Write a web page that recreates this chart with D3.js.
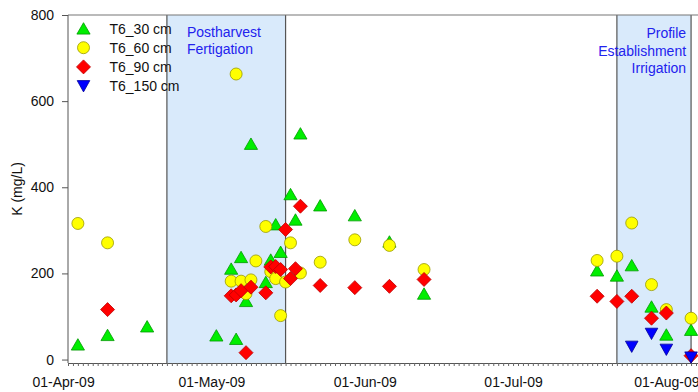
<!DOCTYPE html>
<html><head><meta charset="utf-8">
<script src="https://cdn.jsdelivr.net/npm/d3@7"></script>
<style>
html,body{margin:0;padding:0;background:#fff;overflow:hidden}
svg{display:block;font-family:"Liberation Sans",Arial,sans-serif}
</style></head><body>
<svg id="c" width="698" height="392"></svg>
<script>
// ---- data ----
const seriesNames = ["T6_30 cm", "T6_60 cm", "T6_90 cm", "T6_150 cm"];
const dates30 = ["2009-04-04","2009-04-10","2009-04-18","2009-05-02","2009-05-05","2009-05-06","2009-05-07","2009-05-08","2009-05-09","2009-05-12","2009-05-13","2009-05-14","2009-05-15","2009-05-17","2009-05-18","2009-05-19","2009-05-23","2009-05-30","2009-06-06","2009-06-13","2009-07-18","2009-07-22","2009-07-25","2009-07-29","2009-08-01","2009-08-06"];
const k30 = [35,57,77,56,211,48,238,136,501,180,232,314,250,384,325,525,358,335,274,153,207,195,219,123,58,69];
const dates60 = ["2009-04-04","2009-04-10","2009-05-05","2009-05-06","2009-05-07","2009-05-08","2009-05-09","2009-05-10","2009-05-12","2009-05-13","2009-05-14","2009-05-15","2009-05-16","2009-05-17","2009-05-19","2009-05-23","2009-05-30","2009-06-06","2009-06-13","2009-07-18","2009-07-22","2009-07-25","2009-07-29","2009-08-01","2009-08-06"];
const k60 = [316,271,182,663,182,153,185,229,309,204,188,102,180,271,201,226,278,265,209,230,240,317,174,116,96];
const dates90 = ["2009-04-10","2009-05-05","2009-05-06","2009-05-07","2009-05-08","2009-05-09","2009-05-12","2009-05-13","2009-05-14","2009-05-15","2009-05-16","2009-05-17","2009-05-18","2009-05-19","2009-05-23","2009-05-30","2009-06-06","2009-06-13","2009-07-18","2009-07-22","2009-07-25","2009-07-29","2009-08-01","2009-08-06"];
const k90 = [116,148,150,160,16,168,155,215,216,209,302,188,211,356,172,167,170,186,147,135,147,96,108,9];
const dates150 = ["2009-07-25","2009-07-29","2009-08-01","2009-08-06"];
const k150 = [30,60,23,5];
const bandStarts = ["2009-04-22","2009-07-22"];
const bandEnds = ["2009-05-16","2009-08-06"];
const bandLabels = [["Postharvest","Fertigation"],["Profile","Establishment","Irrigation"]];
const xTickLabels = ["2009-04-01","2009-05-01","2009-06-01","2009-07-01","2009-08-01"];
const yTicks = [0,200,400,600,800];
const yLabel = "K (mg/L)";

// ---- setup ----
const parse = d3.timeParse("%Y-%m-%d");
const fmt = d3.timeFormat("%d-%b-%y");
const svg = d3.select("#c");
const L = 68, T = 15, B = 363;
const x = d3.scaleTime().domain([new Date(2009,3,2), new Date(2009,7,10)]).range([L, L + 130*4.945]);
const y = d3.scaleLinear().domain([-8, 800]).range([B, T]);

// bands
const bands = bandStarts.map((s,i)=>({s:parse(s), e:parse(bandEnds[i]), lab:bandLabels[i]}));
svg.selectAll("rect.band").data(bands).join("rect")
  .attr("x", d=>x(d.s)).attr("y", T).attr("width", d=>x(d.e)-x(d.s)).attr("height", B-T)
  .attr("fill", "#d9eafb");
bands.forEach(d=>{
  [d.s, d.e].forEach(t=>{
    svg.append("line").attr("x1", x(t)).attr("x2", x(t)).attr("y1", T).attr("y2", B)
      .attr("stroke", "#555").attr("stroke-width", 1.2);
  });
});
// band labels
const bl1 = svg.append("text").attr("fill", "#2222ee").attr("font-size", 14);
bands[0].lab.forEach((t,i)=>bl1.append("tspan").attr("x", x(bands[0].s)+20).attr("y", 37+i*17).text(t));
const bl2 = svg.append("text").attr("fill", "#2222ee").attr("font-size", 14).attr("text-anchor","end");
bands[1].lab.forEach((t,i)=>bl2.append("tspan").attr("x", x(bands[1].e)-5).attr("y", 38+i*17.5).text(t));

// frame: top line
svg.append("line").attr("x1", L).attr("x2", 698).attr("y1", T).attr("y2", T).attr("stroke", "#777").attr("stroke-width", 1.2);

// y axis
const ya = svg.append("g").attr("transform", `translate(${L},0)`)
  .call(d3.axisLeft(y).tickValues(yTicks).tickSize(6).tickPadding(8));
ya.select(".domain").attr("stroke", "#555").attr("d", `M0,${B}V${T}`);
ya.selectAll(".tick line").attr("stroke", "#555");
ya.selectAll("text").attr("font-size", 14).attr("fill", "#111").attr("font-family", null);

// x axis: daily minor ticks
const xm = svg.append("g").attr("transform", `translate(0,${B})`)
  .call(d3.axisBottom(x).ticks(d3.timeDay.every(1)).tickSize(3).tickFormat(""));
xm.select(".domain").attr("stroke", "#555");
xm.selectAll(".tick line").attr("stroke", "#666");
// x labels
const xl = svg.append("g").attr("transform", `translate(0,${B})`)
  .call(d3.axisBottom(x).tickValues(xTickLabels.map(parse)).tickSize(0).tickPadding(14).tickFormat(fmt));
xl.select(".domain").remove();
xl.selectAll("text").attr("font-size", 14).attr("fill", "#111").attr("font-family", null);

// y label
svg.append("text").attr("transform", `translate(22,${(T+B)/2}) rotate(-90)`)
  .attr("text-anchor", "middle").attr("font-size", 14).attr("fill", "#111").text(yLabel);

// markers
const shapes = {
  up: "M0,-5.8L6.6,5.6L-6.6,5.6Z",
  circle: "M6,0A6,6 0 1,1 -6,0A6,6 0 1,1 6,0Z",
  diamond: "M0,-7L7,0L0,7L-7,0Z",
  down: "M-6.3,-5.5L6.3,-5.5L0,5.8Z"
};
const series = [
  {name: seriesNames[0], d: dates30, v: k30, shape: "up", fill: "#00ee00", stroke: "#009900"},
  {name: seriesNames[1], d: dates60, v: k60, shape: "circle", fill: "#ffff00", stroke: "#999900"},
  {name: seriesNames[2], d: dates90, v: k90, shape: "diamond", fill: "#ff0000", stroke: "#bb0000"},
  {name: seriesNames[3], d: dates150, v: k150, shape: "down", fill: "#0000ff", stroke: "#000099"}
];
series.forEach(s=>{
  const pts = s.d.map((t,i)=>({t: parse(t), v: s.v[i]}));
  svg.append("g").selectAll("path").data(pts).join("path")
    .attr("d", shapes[s.shape])
    .attr("transform", p=>`translate(${x(p.t)},${y(p.v)})`)
    .attr("fill", s.fill).attr("stroke", s.stroke).attr("stroke-width", 0.8);
});

// legend
const lg = svg.append("g");
series.forEach((s,i)=>{
  const yy = 28.5 + i*19.2;
  lg.append("path").attr("d", shapes[s.shape]).attr("transform", `translate(83.5,${yy})`)
    .attr("fill", s.fill).attr("stroke", s.stroke).attr("stroke-width", 0.8);
  lg.append("text").attr("x", 109.5).attr("y", yy+5).attr("font-size", 14).attr("fill", "#111").text(s.name);
});
</script>
</body></html>
